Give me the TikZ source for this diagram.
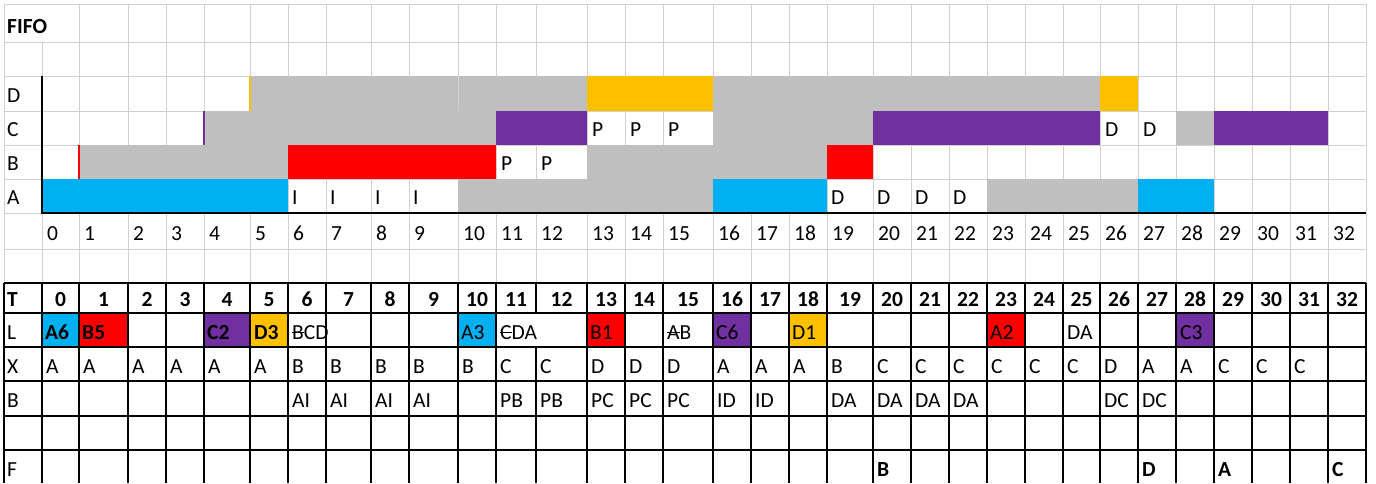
\documentclass[tikz,border=0pt]{standalone}
\usepackage{fontspec}
\setmainfont{Carlito}
\definecolor{xblue}{HTML}{00B0F0}
\definecolor{xred}{HTML}{FF0000}
\definecolor{xpurple}{HTML}{7030A0}
\definecolor{xorange}{HTML}{FFC000}
\definecolor{xgray}{HTML}{BFBFBF}
\definecolor{xgrid}{HTML}{D0D0D0}
\newcommand\strk[1]{\sbox0{#1}\rlap{\rule[0.27em]{\wd0}{0.07em}}\usebox0}
\def\cols{42/79,79/128,128/166,166/204,204/250,250/288,288/326,326/371,371/409,409/458,458/496,496/536,536/587,587/625,625/663,663/713,713/751,751/789,789/827,827/873,873/911,911/949,949/987,987/1025,1025/1063,1063/1100,1100/1138,1138/1176,1176/1214,1214/1252,1252/1290,1290/1328,1328/1366}
\begin{document}
\begin{tikzpicture}[x=1pt,y=-1pt,
  gline/.style={xgrid,line width=1pt},
  tline/.style={black,line width=1.6pt},
  axline/.style={black,line width=1.8pt},
  txt/.style={anchor=base west,inner sep=0pt,font=\fontsize{21.5}{24}\selectfont},
  btxt/.style={anchor=base west,inner sep=0pt,font=\fontsize{21.5}{24}\selectfont\bfseries},
  ctxt/.style={anchor=base,inner sep=0pt,font=\fontsize{21.5}{24}\selectfont\bfseries},
  edge/.style={line width=1.6pt}
]
\useasboundingbox (0,0) rectangle (1376,483);
\fill[white] (0,0) rectangle (1376,483);

% upper gridlines
\foreach \y in {4,42,76,111,145,179,213,249} \draw[gline] (4,\y) -- (1366,\y);
\draw[gline] (4,4) -- (4,283);
\draw[gline] (42,42) -- (42,283);
\foreach \xl/\xr in \cols \draw[gline] (\xr,4) -- (\xr,283);

% row D
\fill[xgray] (250,76) rectangle (587,111);
\fill[xorange] (587,76) rectangle (713,111);
\fill[xgray] (713,76) rectangle (1100,111);
\fill[xorange] (1100,76) rectangle (1138,111);
\draw[edge,xorange] (250,76) -- (250,111);
\draw[xgrid,line width=0.8pt] (458,76) -- (458,111);
% row C
\fill[xgray] (204,111) rectangle (496,145);
\fill[xpurple] (496,111) rectangle (587,145);
\fill[xgray] (713,111) rectangle (873,145);
\fill[xpurple] (873,111) rectangle (1100,145);
\fill[xgray] (1176,111) rectangle (1214,145);
\fill[xpurple] (1214,111) rectangle (1328,145);
\draw[edge,xpurple] (204,111) -- (204,145);
% row B
\fill[xgray] (79,145) rectangle (288,179);
\fill[xred] (288,145) rectangle (496,179);
\fill[xgray] (587,145) rectangle (827,179);
\fill[xred] (827,145) rectangle (873,179);
\draw[edge,xred] (79,145) -- (79,179);
% row A
\fill[xblue] (42,179) rectangle (288,213);
\fill[xgray] (458,179) rectangle (713,213);
\fill[xblue] (713,179) rectangle (827,213);
\fill[xgray] (987,179) rectangle (1138,213);
\fill[xblue] (1138,179) rectangle (1214,213);

% axes
\draw[axline] (42,76) -- (42,213) -- (1366,213);

% upper texts
\node[btxt] (fifo) at (7,33) {FIFO};
\node[txt] (lD) at (7,102) {D};
\node[txt] (lC) at (7,136) {C};
\node[txt] (lB) at (7,170) {B};
\node[txt] (lA) at (7,204) {A};
\foreach \x [count=\i] in {587,625,663} \node[txt] (pc\i) at ({\x+5},136) {P};
\foreach \x [count=\i] in {496,536} \node[txt] (pb\i) at ({\x+5},170) {P};
\foreach \x [count=\i] in {288,326,371,409} \node[txt] (ia\i) at ({\x+4},204) {I};
\foreach \x [count=\i] in {827,873,911,949} \node[txt] (da\i) at ({\x+4},204) {D};
\foreach \x [count=\i] in {1100,1138} \node[txt] (dc\i) at ({\x+5},136) {D};
\foreach \xl/\xr [count=\i from 0] in \cols \node[txt] (num\i) at ({\xl+5},240) {\i};

% lower table fills (row L)
\fill[xblue] (42,313) rectangle (79,347);
\fill[xred] (79,313) rectangle (128,347);
\fill[xpurple] (204,313) rectangle (250,347);
\fill[xorange] (250,313) rectangle (288,347);
\fill[xblue] (458,313) rectangle (496,347);
\fill[xred] (587,313) rectangle (625,347);
\fill[xpurple] (713,313) rectangle (751,347);
\fill[xorange] (789,313) rectangle (827,347);
\fill[xred] (987,313) rectangle (1025,347);
\fill[xpurple] (1176,313) rectangle (1214,347);

% lower table lines
\foreach \y in {283,313,347,381,416,450} \draw[tline] (4,\y) -- (1366,\y);
\draw[tline] (4,283) -- (4,483);
\draw[tline] (42,283) -- (42,483);
\foreach \xl/\xr in \cols {
  \ifnum\xr=536
    \draw[tline] (\xr,283) -- (\xr,313);
    \draw[tline] (\xr,347) -- (\xr,483);
  \else
    \draw[tline] (\xr,283) -- (\xr,483);
  \fi
}

% row T
\node[btxt] (tT) at (7,306) {T};
\foreach \xl/\xr [count=\i from 0] in \cols \node[ctxt] (t\i) at ({(\xl+\xr)/2},306) {\i};
% row L
\node[txt] (tL) at (7,339) {L};
\node[btxt] (l0) at (45,339) {A6};
\node[btxt] (l1) at (82,339) {B5};
\node[btxt] (l4) at (207,339) {C2};
\node[btxt] (l5) at (254,339) {D3};
\node[txt] (l6) at (292,339) {\strk{B}CD};
\node[txt] (l10) at (461,339) {A3};
\node[txt] (l11) at (500,339) {\strk{C}DA};
\node[txt] (l13) at (590,339) {B1};
\node[txt] (l15) at (667,339) {\strk{A}B};
\node[txt] (l16) at (716,339) {C6};
\node[txt] (l18) at (792,339) {D1};
\node[txt] (l23) at (990,339) {A2};
\node[txt] (l25) at (1067,339) {DA};
\node[txt] (l28) at (1180,339) {C3};
% row X
\node[txt] (tX) at (7,373) {X};
\foreach \xl/\t [count=\i from 0] in {42/A,79/A,128/A,166/A,204/A,250/A,288/B,326/B,371/B,409/B,458/B,496/C,536/C,587/D,625/D,663/D,713/A,751/A,789/A,827/B,873/C,911/C,949/C,987/C,1025/C,1063/C,1100/D,1138/A,1176/A,1214/C,1252/C,1290/C}
  \node[txt] (x\i) at ({\xl+4},373) {\t};
% row B
\node[txt] (tB) at (7,407) {B};
\foreach \xl/\t [count=\i] in {288/AI,326/AI,371/AI,409/AI,496/PB,536/PB,587/PC,625/PC,663/PC,713/ID,751/ID,827/DA,873/DA,911/DA,949/DA,1100/DC,1138/DC}
  \node[txt] (b\i) at ({\xl+4},407) {\t};
% row F
\node[txt] (tF) at (7,476) {F};
\foreach \xl/\t [count=\i] in {873/B,1138/D,1214/A,1328/C}
  \node[btxt] (f\i) at ({\xl+4},476) {\t};
\end{tikzpicture}
\end{document}
